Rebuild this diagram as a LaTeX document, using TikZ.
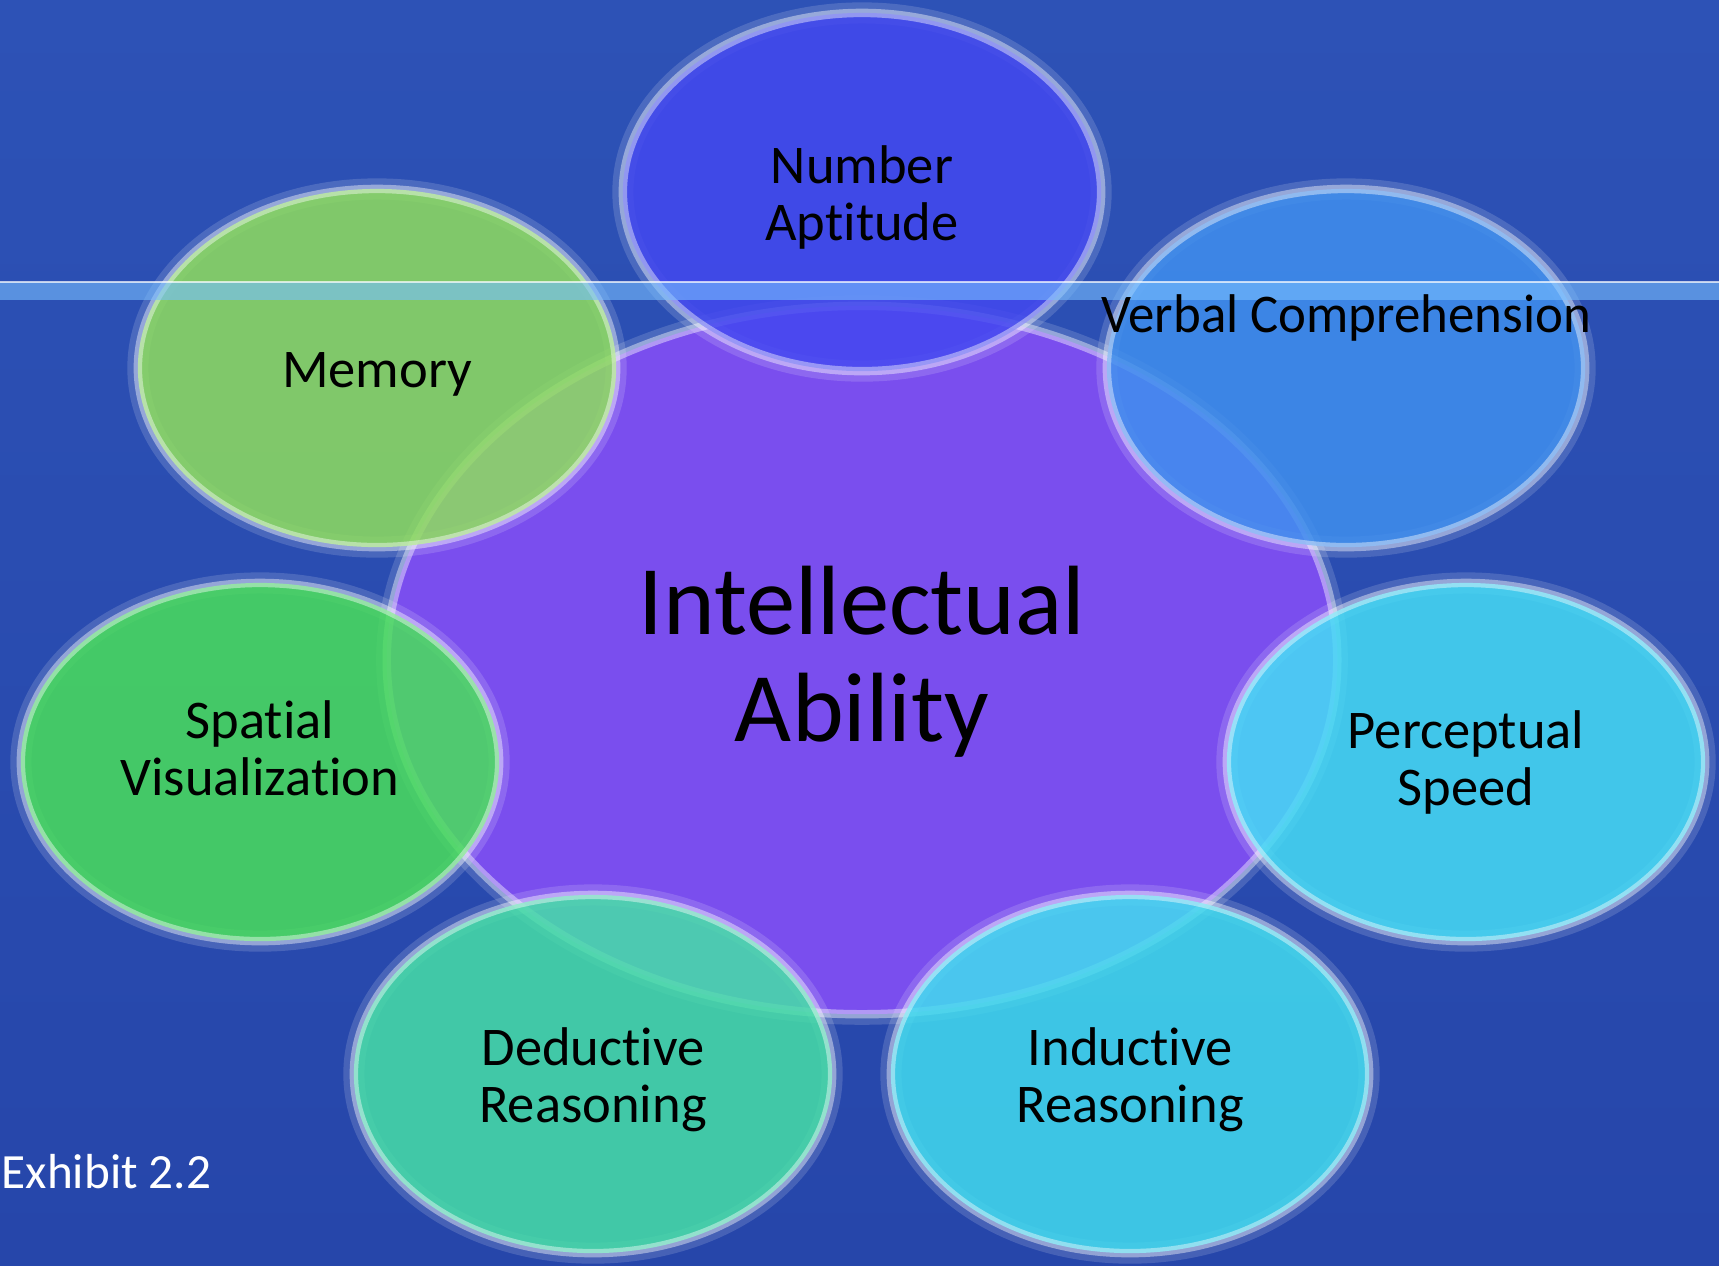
\documentclass[tikz,border=0pt]{standalone}
\usepackage{fontspec}
\setmainfont{Carlito}[Ligatures={NoCommon}]
\usetikzlibrary{shapes.geometric}
\definecolor{slidetop}{RGB}{45,82,182}
\definecolor{slidebot}{RGB}{38,70,170}
\definecolor{corepurple}{RGB}{122,78,238}
\definecolor{numblue}{RGB}{67,72,240}
\definecolor{verbblue}{RGB}{64,143,238}
\definecolor{memgreen}{RGB}{143,222,94}
\definecolor{spatgreen}{RGB}{73,223,91}
\definecolor{perccyan}{RGB}{70,220,245}
\definecolor{dedteal}{RGB}{70,223,167}
\definecolor{indcyan}{RGB}{66,220,239}
\definecolor{bandblue}{RGB}{120,190,255}
\tikzset{glow/.style={draw=white, draw opacity=0.42, line width=2.4pt, preaction={draw=white, draw opacity=0.15, line width=6pt}}}
\tikzset{bubble/.style={ellipse, glow, fill opacity=0.85, minimum width=4.78cm, minimum height=3.58cm, inner sep=0pt}}
\tikzset{core/.style={ellipse, glow, fill=corepurple, minimum width=9.5cm, minimum height=7.08cm, inner sep=0pt}}
\tikzset{tag/.style={align=center, inner sep=0pt, font=\fontsize{15.5}{16.2}\selectfont}}
\tikzset{bigtag/.style={align=center, inner sep=0pt, font=\fontsize{28}{30.2}\selectfont}}
\tikzset{caption/.style={white, anchor=base west, inner sep=0pt, font=\fontsize{14}{16}\selectfont}}

\begin{document}
\begin{tikzpicture}[x=0.01cm, y=-0.01cm]
\useasboundingbox (0,0) rectangle (1719,1265);
\fill[top color=slidetop, bottom color=slidebot] (0,0) rectangle (1719,1265);
\node[core] (core) at (862,660) {};
\node[bubble, fill=numblue] (num) at (862,192) {};
\node[bubble, fill=verbblue] (verb) at (1346,368) {};
\node[bubble, fill=memgreen] (mem) at (377,368) {};
\node[bubble, fill=spatgreen] (spat) at (260,762) {};
\node[bubble, fill=perccyan] (perc) at (1466,762) {};
\node[bubble, fill=dedteal] (ded) at (593,1074) {};
\node[bubble, fill=indcyan] (ind) at (1130,1074) {};
% light band across the slide
\fill[bandblue, opacity=0.6] (0,282) rectangle (1719,300);
\draw[white, opacity=0.7, line width=0.6pt] (0,282) -- (1719,282);
% labels
\node[bigtag, yshift=-0.5pt] at (core.center) {Intellectual\\Ability};
\node[tag, yshift=-1.6pt] at (num.center) {Number\\Aptitude};
\node[tag, yshift=-1.9pt] at (mem.center) {Memory};
\node[tag, yshift=4pt] at (spat.center) {Spatial\\Visualization};
\node[tag] at (perc.center) {Perceptual\\Speed};
\node[tag, yshift=-1.6pt] at (ded.center) {Deductive\\Reasoning};
\node[tag, yshift=-1.6pt] at (ind.center) {Inductive\\Reasoning};
\node[tag, xscale=0.97, anchor=base] (verblabel) at (1346,332) {Verbal Comprehension};
\node[caption] (exhibit) at (1,1188) {Exhibit 2.2};
\end{tikzpicture}
\end{document}
